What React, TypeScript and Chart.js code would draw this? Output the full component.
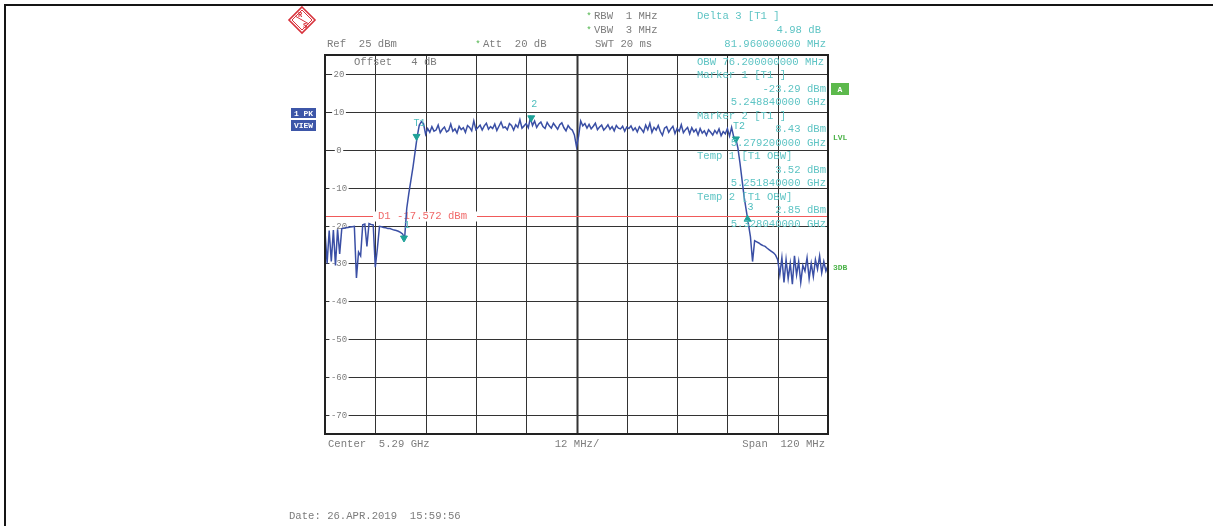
import React, { useEffect, useRef } from 'react';
import { Chart, registerables } from 'chart.js';

Chart.register(...registerables);

// ---------- data ----------
const freqStartMHz = 5230;
const freqStepMHz = 0.5;

const traceLevels = [
  -21.5, -30, -21.3, -29.5, -21.2, -30.5, -21.0, -27.5, -20.8, -20.7,
  -20.6, -20.5, -20.4, -20.3, -20.2, -33.8, -27, -28, -19.8, -19.6,
  -25.5, -19.5, -19.7, -19.8, -31, -26, -20.2, -20.3, -20.5, -20.6,
  -20.8, -20.8, -21.0, -21.2, -21.3, -21.5, -21.8, -22.2, -23.3,
  -15.5, -11.5, -8, -4.5, -0.5, 3.5, 6.5,
  7.4, 6.9, 4.1, 5.6, 4.6, 6.1, 4.9, 5.2, 6.5, 4.5,
  5.4, 6.0, 4.7, 5.1, 6.8, 4.9, 5.5, 4.4, 6.2, 5.3,
  5.8, 4.6, 6.4, 5.9, 5.0, 7.6, 5.3, 5.9, 6.5, 5.2,
  6.3, 7.0, 5.4, 6.1, 5.6, 6.8, 5.1, 6.2, 7.3, 5.8,
  6.0, 5.3, 6.9, 6.4, 5.2, 6.6, 5.9, 7.9, 5.7, 6.3,
  6.9, 5.8, 8.4, 6.4, 7.6, 5.9, 6.8, 7.3, 6.1, 5.6,
  7.2, 6.3, 5.7, 7.0, 6.2, 5.4, 6.6, 7.1, 5.8, 5.0,
  6.4, 5.6, 5.2, 3.9, 0.8, 3.6, 7.6, 6.3, 6.9, 5.7,
  6.7, 5.5, 6.2, 7.0, 5.3, 6.0, 6.5, 5.2, 5.8, 6.6,
  5.4, 6.1, 5.0, 6.4, 5.7, 5.5, 6.2, 4.9, 6.0, 5.6,
  6.3, 5.1, 5.8, 4.7, 6.1, 5.4, 4.6, 6.5, 5.3, 7.0,
  4.6, 5.9, 5.2, 6.4, 4.8, 3.8, 5.7, 6.1, 4.6, 5.5,
  6.2, 4.3, 5.6, 4.9, 6.6, 4.5, 5.3, 5.9, 4.2, 5.8,
  4.7, 5.4, 3.9, 5.6, 4.4, 5.0, 3.8, 5.3, 4.6, 3.9,
  5.1, 4.3, 5.5, 3.7, 4.8, 4.2, 5.6, 3.6, 5.9, 3.4,
  3.0, 0.5, -3.5, -8, -12.5, -16, -19.5, -23, -29.5, -24,
  -24.3, -24.6, -25, -25.3, -25.5, -26, -26.4, -26.8, -27.2, -27.8, -29,
  -33, -28.5, -35, -29, -34, -30, -35.5, -28, -33, -29.5,
  -35, -30.5, -32, -28.5, -34, -30, -33.5, -29, -31.5, -28,
  -32.5, -29.5, -32, -30.5,
];
const traceFreqs = traceLevels.map((_, i) => freqStartMHz + i * freqStepMHz);

const xGridValues = [5242, 5254, 5266, 5278, 5290, 5302, 5314, 5326, 5338];
const yGridValues = [20, 10, 0, -10, -20, -30, -40, -50, -60, -70];
const yTickLabels = [20, 10, 0, -10, -20, -30, -40, -50, -60, -70];

const markerNames = ['1', 'T1', '2', 'T2', '3'];
const markerFreqs = [5248.84, 5251.84, 5279.2, 5328.04, 5330.8];
const markerLevels = [-23.29, 3.52, 8.43, 2.85, -18.31];
const markerPointsUp = [false, false, false, false, true];

const displayLineLevel = -17.572;
const displayLineLabel = 'D1 -17.572 dBm';

const headerLeft = ['Ref  25 dBm', 'Att  20 dB', 'SWT 20 ms', 'RBW  1 MHz', 'VBW  3 MHz', 'Offset   4 dB'];
const deltaLines = ['Delta 3 [T1 ]', '4.98 dB', '81.960000000 MHz'];
const panelLines = [
  'OBW 76.200000000 MHz',
  'Marker 1 [T1 ]', '-23.29 dBm', '5.248840000 GHz',
  'Marker 2 [T1 ]', '8.43 dBm', '5.279200000 GHz',
  'Temp 1 [T1 OBW]', '3.52 dBm', '5.251840000 GHz',
  'Temp 2 [T1 OBW]', '2.85 dBm', '5.328040000 GHz',
];
const footerTexts = ['Center  5.29 GHz', '12 MHz/', 'Span  120 MHz'];
const dateText = 'Date: 26.APR.2019  15:59:56';
const sideTags = ['1 PK', 'VIEW', 'A', 'LVL', '3DB'];

// ---------- styles ----------
const MONO = '"Liberation Mono", "DejaVu Sans Mono", monospace';
const GREY = '#7c7c7c';
const TEAL = '#5ec4c4';
const GREEN = '#4db34a';
const GRID = '#333333';

function App() {
  const ref = useRef<HTMLCanvasElement | null>(null);

  useEffect(() => {
    if (!ref.current) return;

    const text = (ctx: CanvasRenderingContext2D, s: string, x: number, y: number, color: string, align: CanvasTextAlign = 'left', font = `10.6px ${MONO}`) => {
      ctx.font = font;
      ctx.fillStyle = color;
      ctx.textAlign = align;
      ctx.textBaseline = 'middle';
      ctx.fillText(s, x, y);
    };

    const overlay = {
      id: 'overlay',
      beforeDatasetsDraw(chart: any) {
        const { ctx, chartArea: a, scales } = chart;
        const x = scales.x;
        const y = scales.y;
        ctx.save();
        // grid
        ctx.strokeStyle = GRID;
        xGridValues.forEach((v) => {
          const px = Math.round(x.getPixelForValue(v)) + 0.5;
          ctx.lineWidth = v === 5290 ? 2 : 1;
          ctx.beginPath();
          ctx.moveTo(px, a.top);
          ctx.lineTo(px, a.bottom);
          ctx.stroke();
        });
        ctx.lineWidth = 1;
        yGridValues.forEach((v) => {
          const py = Math.round(y.getPixelForValue(v)) + 0.5;
          ctx.beginPath();
          ctx.moveTo(a.left, py);
          ctx.lineTo(a.right, py);
          ctx.stroke();
        });
        // y tick labels inside plot
        ctx.font = `9px ${MONO}`;
        yTickLabels.forEach((v) => {
          const py = Math.round(y.getPixelForValue(v)) + 0.5;
          const s = String(v);
          const w = ctx.measureText(s).width;
          ctx.fillStyle = '#fff';
          ctx.fillRect(a.left + 14 - w / 2 - 1.5, py - 4, w + 3, 8);
          text(ctx, s, a.left + 14, py, GREY, 'center', `9px ${MONO}`);
        });
        // display line
        const dy = Math.round(y.getPixelForValue(displayLineLevel)) + 0.5;
        ctx.strokeStyle = '#f05a5a';
        ctx.lineWidth = 1;
        ctx.beginPath();
        ctx.moveTo(a.left, dy);
        ctx.lineTo(a.right, dy);
        ctx.stroke();
        ctx.fillStyle = '#fff';
        ctx.fillRect(a.left + 48, dy - 5, 104, 10);
        text(ctx, displayLineLabel, a.left + 53, dy, '#f06a6a');
        ctx.restore();
      },
      afterDatasetsDraw(chart: any) {
        const { ctx, chartArea: a, scales } = chart;
        const x = scales.x;
        const y = scales.y;
        ctx.save();
        // marker labels
        markerNames.forEach((n, i) => {
          const px = x.getPixelForValue(markerFreqs[i]);
          const py = y.getPixelForValue(markerLevels[i]);
          text(ctx, n, px + 3, py - (markerPointsUp[i] ? 12 : 13), '#4dbdbd', 'center', `10px ${MONO}`);
        });
        // right info panel
        const rows = [62, 75.5, 89, 102.5, 116, 129.5, 143, 156.5, 170, 183.5, 197, 210.5, 224];
        panelLines.forEach((s, i) => {
          const isTitle = i === 0 || i === 1 || i === 4 || i === 7 || i === 10;
          if (isTitle) text(ctx, s, 697, rows[i], TEAL, 'left');
          else text(ctx, s, 826, rows[i], TEAL, 'right');
        });
        // plot frame
        ctx.strokeStyle = '#222';
        ctx.lineWidth = 2;
        ctx.strokeRect(a.left, a.top, a.right - a.left, a.bottom - a.top);
        ctx.restore();
      },
      afterDraw(chart: any) {
        const { ctx } = chart;
        ctx.save();
        // page frame
        ctx.fillStyle = '#151515';
        ctx.fillRect(4, 4, 1213, 2);
        ctx.fillRect(4, 4, 2, 526);
        // logo
        ctx.strokeStyle = '#d8323c';
        ctx.lineWidth = 1.6;
        ctx.beginPath();
        ctx.moveTo(302, 7); ctx.lineTo(315, 20); ctx.lineTo(302, 33); ctx.lineTo(289, 20); ctx.closePath();
        ctx.stroke();
        ctx.lineWidth = 1;
        ctx.beginPath();
        ctx.moveTo(302, 10); ctx.lineTo(312, 20); ctx.lineTo(302, 30); ctx.lineTo(292, 20); ctx.closePath();
        ctx.stroke();
        ctx.beginPath();
        ctx.moveTo(295, 16); ctx.lineTo(309, 24);
        ctx.stroke();
        text(ctx, 'R', 300, 15, '#d8323c', 'center', `bold 7px ${MONO}`);
        text(ctx, 'S', 305, 26, '#d8323c', 'center', `bold 7px ${MONO}`);
        // header
        text(ctx, headerLeft[0], 327, 44, GREY);
        text(ctx, '*', 478, 45, GREEN, 'center', `9px ${MONO}`);
        text(ctx, headerLeft[1], 483, 44, GREY);
        text(ctx, headerLeft[2], 595, 44, GREY);
        text(ctx, '*', 589, 17, GREEN, 'center', `9px ${MONO}`);
        text(ctx, headerLeft[3], 594, 16, GREY);
        text(ctx, '*', 589, 31, GREEN, 'center', `9px ${MONO}`);
        text(ctx, headerLeft[4], 594, 30, GREY);
        text(ctx, headerLeft[5], 354, 62, GREY);
        text(ctx, deltaLines[0], 697, 16, TEAL);
        text(ctx, deltaLines[1], 821, 30, TEAL, 'right');
        text(ctx, deltaLines[2], 826, 44, TEAL, 'right');
        // footer
        text(ctx, footerTexts[0], 328, 444, GREY);
        text(ctx, footerTexts[1], 577, 444, GREY, 'center');
        text(ctx, footerTexts[2], 825, 444, GREY, 'right');
        text(ctx, dateText, 289, 516, GREY);
        // side tags
        ctx.fillStyle = '#3d56a8';
        ctx.fillRect(291, 108, 25, 10);
        ctx.fillRect(291, 120, 25, 11);
        text(ctx, sideTags[0], 303.5, 113.5, '#fff', 'center', `bold 8px ${MONO}`);
        text(ctx, sideTags[1], 303.5, 125.5, '#fff', 'center', `bold 8px ${MONO}`);
        ctx.fillStyle = '#5cb94c';
        ctx.fillRect(831, 83, 18, 12);
        text(ctx, sideTags[2], 840, 89.5, '#fff', 'center', `bold 8px ${MONO}`);
        text(ctx, sideTags[3], 833, 138, GREEN, 'left', `bold 8px ${MONO}`);
        text(ctx, sideTags[4], 833, 268, GREEN, 'left', `bold 8px ${MONO}`);
        ctx.restore();
      },
    };

    const chart = new Chart(ref.current, {
      type: 'scatter',
      data: {
        datasets: [
          {
            label: 'Markers',
            data: markerFreqs.map((f, i) => ({ x: f, y: markerLevels[i] })),
            pointStyle: 'triangle',
            pointRotation: markerPointsUp.map((u) => (u ? 0 : 180)),
            pointRadius: 4,
            backgroundColor: '#1fa198',
            borderColor: '#1fa198',
            borderWidth: 1,
            showLine: false,
          },
          {
            label: 'Trace 1',
            data: traceFreqs.map((f, i) => ({ x: f, y: traceLevels[i] })),
            showLine: true,
            borderColor: '#3a4fa5',
            borderWidth: 1.5,
            pointRadius: 0,
            tension: 0,
          },
        ],
      },
      options: {
        animation: false,
        responsive: false,
        events: [],
        layout: { padding: { left: 325, top: 55, right: 385, bottom: 92 } },
        plugins: { legend: { display: false }, tooltip: { enabled: false } },
        scales: {
          x: {
            type: 'linear',
            min: 5230,
            max: 5350,
            ticks: { display: false },
            grid: { display: false, drawTicks: false },
            border: { display: false },
          },
          y: {
            type: 'linear',
            min: -75,
            max: 25,
            ticks: { display: false },
            grid: { display: false, drawTicks: false },
            border: { display: false },
          },
        },
      } as any,
      plugins: [overlay],
    });

    return () => chart.destroy();
  }, []);

  return (
    <div style={{ position: 'absolute', left: 0, top: 0, width: 1213, height: 526, background: '#fff' }}>
      <canvas ref={ref} width={1213} height={526} style={{ display: 'block' }} />
    </div>
  );
}

export default App;
